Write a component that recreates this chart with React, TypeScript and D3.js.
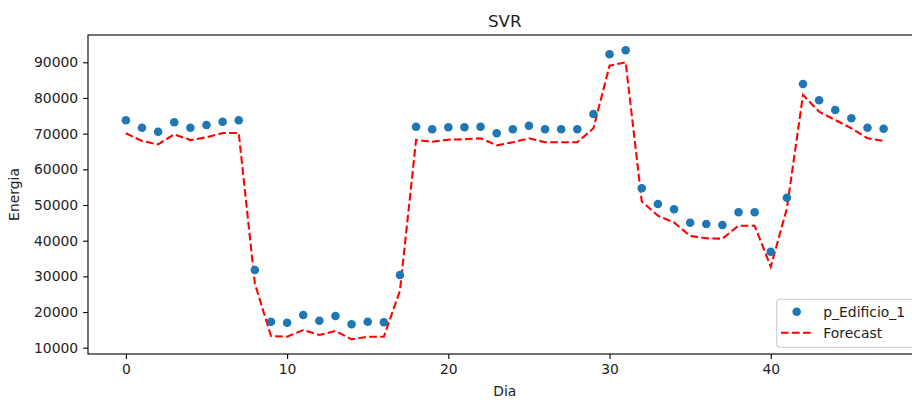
import React, { useEffect, useRef } from 'react';
import * as d3 from 'd3';

// valores
const dias: number[] = d3.range(48);

const edificio1: number[] = [
  73740, 71670, 70550, 73180, 71670, 72420, 73350, 73740,
  31780, 17290, 17010, 19170, 17570, 18890, 16560, 17290, 17120, 30380,
  71950, 71220, 71780, 71780, 71950, 70100, 71220, 72230, 71220, 71220, 71220, 75510,
  92240, 93360,
  54680, 50280, 48800, 45040, 44670, 44390, 47950, 47950, 36910, 52050,
  83920, 79350, 76630, 74300, 71670, 71390,
];

const forecast: number[] = [
  70100, 67940, 67000, 69800, 68200, 68980, 70180, 70200,
  28000, 13280, 13080, 14960, 13560, 14680, 12350, 13080, 13080, 26000,
  68220, 67740, 68300, 68400, 68700, 66730, 67580, 68700, 67580, 67580, 67580, 71500,
  89050, 90000,
  51000, 47000, 45100, 41310, 40670, 40550, 44200, 44200, 32700, 49000,
  80830, 76150, 73830, 71500, 68700, 67940,
];

const xTicks: number[] = [0, 10, 20, 30, 40];
const yTicks: number[] = [10000, 20000, 30000, 40000, 50000, 60000, 70000, 80000, 90000];

const FONT = '"DejaVu Sans", sans-serif';

const SVRChart = () => {
  const svgRef = useRef<SVGSVGElement>(null);

  useEffect(() => {
    const width = 912;
    const height = 400;
    const left = 88, right = 921.5, top = 35, bottom = 354;

    const svg = d3.select(svgRef.current)
      .attr('width', width)
      .attr('height', height);

    // margen del 5% como matplotlib
    const x = d3.scaleLinear().domain([-2.35, 49.35]).range([left, right]);
    const y = d3.scaleLinear().domain([8234, 97650]).range([bottom, top]);

    const g = svg.append('g');

    // linea de prediccion
    const line = d3.line<number>()
      .x((d, i) => x(dias[i]))
      .y(d => y(d));

    g.append('path')
      .datum(forecast)
      .attr('d', line)
      .attr('fill', 'none')
      .attr('stroke', '#ff0000')
      .attr('stroke-width', 2.08)
      .attr('stroke-dasharray', '7.7,3.3');

    g.selectAll('.punto')
      .data(edificio1)
      .enter().append('circle')
      .attr('class', 'punto')
      .attr('cx', (d, i) => x(dias[i]))
      .attr('cy', d => y(d))
      .attr('r', 4.3)
      .attr('fill', '#1f77b4');

    // ejes
    const xAxis = svg.append('g')
      .attr('transform', `translate(0,${bottom})`)
      .call(d3.axisBottom(x).tickValues(xTicks).tickFormat(d3.format('d')).tickSize(4.9).tickPadding(4.9));

    const yAxis = svg.append('g')
      .attr('transform', `translate(${left},0)`)
      .call(d3.axisLeft(y).tickValues(yTicks).tickFormat(d3.format('d')).tickSize(4.9).tickPadding(4.9));

    [xAxis, yAxis].forEach(ax => {
      ax.select('.domain').remove();
      ax.selectAll('.tick line').attr('stroke', '#000').attr('stroke-width', 1.1);
      ax.selectAll('.tick text')
        .attr('fill', '#222')
        .style('font-family', FONT)
        .style('font-size', '13.9px');
    });

    // marco
    svg.append('rect')
      .attr('x', left)
      .attr('y', top)
      .attr('width', right - left)
      .attr('height', bottom - top)
      .attr('fill', 'none')
      .attr('stroke', '#000')
      .attr('stroke-width', 1.1);

    svg.append('text')
      .attr('x', (left + right) / 2)
      .attr('y', 27)
      .attr('text-anchor', 'middle')
      .attr('fill', '#222')
      .style('font-family', FONT)
      .style('font-size', '16.7px')
      .text('SVR');

    svg.append('text')
      .attr('x', (left + right) / 2)
      .attr('y', 396)
      .attr('text-anchor', 'middle')
      .attr('fill', '#222')
      .style('font-family', FONT)
      .style('font-size', '13.9px')
      .text('Dia');

    svg.append('text')
      .attr('transform', `translate(18.5,${(top + bottom) / 2}) rotate(-90)`)
      .attr('text-anchor', 'middle')
      .attr('fill', '#222')
      .style('font-family', FONT)
      .style('font-size', '13.9px')
      .text('Energia');

    // leyenda
    const leg = svg.append('g');
    leg.append('rect')
      .attr('x', 776.7)
      .attr('y', 299.3)
      .attr('width', 137)
      .attr('height', 48)
      .attr('rx', 3)
      .attr('fill', 'rgba(255,255,255,0.8)')
      .attr('stroke', '#cccccc')
      .attr('stroke-width', 1.1);

    leg.append('circle')
      .attr('cx', 796.7)
      .attr('cy', 311.7)
      .attr('r', 4.3)
      .attr('fill', '#1f77b4');

    leg.append('line')
      .attr('x1', 781)
      .attr('x2', 811)
      .attr('y1', 332.7)
      .attr('y2', 332.7)
      .attr('stroke', '#ff0000')
      .attr('stroke-width', 2.08)
      .attr('stroke-dasharray', '7.7,3.3');

    const labels = ['p_Edificio_1', 'Forecast'];
    leg.selectAll('.leg-text')
      .data(labels)
      .enter().append('text')
      .attr('class', 'leg-text')
      .attr('x', 823.3)
      .attr('y', (d, i) => 311.7 + i * 21)
      .attr('dy', '0.35em')
      .attr('fill', '#222')
      .style('font-family', FONT)
      .style('font-size', '13.9px')
      .text(d => d);

    return () => {
      d3.select(svgRef.current).selectAll('*').remove();
    };
  }, []);

  return <svg ref={svgRef} style={{ display: 'block' }}></svg>;
};

const App = () => (
  <div style={{ position: 'fixed', left: 0, top: 0, width: 912, height: 400, overflow: 'hidden', background: '#fff' }}>
    <SVRChart />
  </div>
);

export default App;
